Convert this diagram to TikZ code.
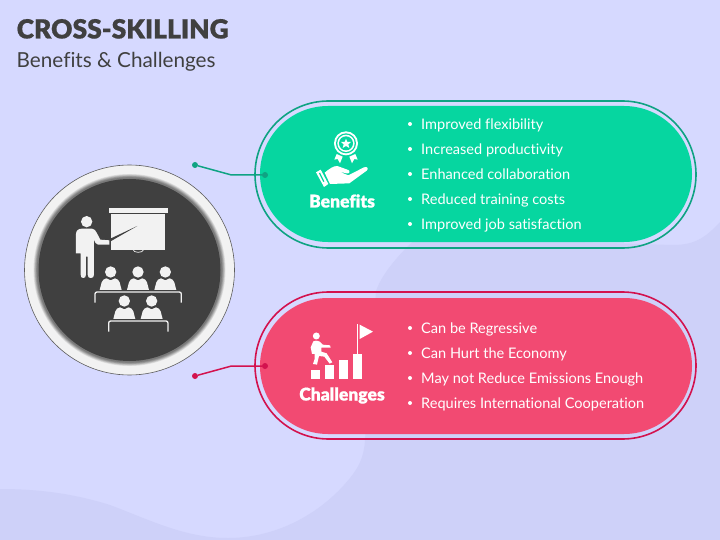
\documentclass[tikz,border=0pt]{standalone}
\usepackage{fontspec}
\setmainfont{Lato}[Ligatures=NoCommon]
\newfontfamily\heavyfont{Lato}[UprightFont=* Black,Ligatures=NoCommon,FakeBold=0.6]
\usetikzlibrary{shapes.misc}
\definecolor{bgcol}{HTML}{D6D9FF}
\definecolor{blobcol}{HTML}{CED1F9}
\definecolor{dark}{HTML}{404040}
\definecolor{pale}{HTML}{F2F2F2}
\definecolor{greenfill}{HTML}{06D6A0}
\definecolor{greenline}{HTML}{0FA383}
\definecolor{redfill}{HTML}{F24A72}
\definecolor{redline}{HTML}{D3124E}
\tikzset{
  pillring/.style={rounded rectangle,draw,line width=1.6pt,minimum width=441pt,minimum height=147pt,inner sep=0pt,anchor=center},
  pillfill/.style={rounded rectangle,minimum width=432pt,minimum height=136pt,inner sep=0pt,anchor=center},
  bullettext/.style={anchor=base west,text=white,font=\fontsize{14.55}{16}\selectfont,inner sep=0pt},
  bulletdot/.style={circle,fill=white,minimum size=4pt,inner sep=0pt},
  pilltitle/.style={anchor=base,text=white,font=\heavyfont\fontsize{17.5}{18}\selectfont,inner sep=0pt},
  enddot/.style={circle,minimum size=6pt,inner sep=0pt},
  conn/.style={line width=1.5pt},
  ico/.style={fill=pale,draw=none},
}
\begin{document}
\begin{tikzpicture}[x=1pt,y=-1pt]
\useasboundingbox (0,0) rectangle (720,540);
\fill[bgcol] (0,0) rectangle (720,540);
\fill[blobcol] (720,222) .. controls (705,238) and (695,245) .. (672,245) -- (450,238)
  .. controls (430,238) and (422,232) .. (411,243)
  .. controls (392,262) and (381,277) .. (376,291)
  -- (365,440) .. controls (364,458) and (358,468) .. (350,478)
  .. controls (320,515) and (275,538) .. (228,538)
  .. controls (185,538) and (150,520) .. (110,505)
  .. controls (75,494) and (40,489) .. (0,489)
  -- (0,540) -- (720,540) -- cycle;

\node[anchor=base west,inner sep=0pt,text=dark,font=\heavyfont\fontsize{26.4}{28}\selectfont] (title) at (16.5,38.5) {CROSS-SKILLING};
\node[anchor=base west,inner sep=0pt,text=dark,font=\fontsize{20.7}{24}\selectfont] (subtitle) at (16.5,67.5) {Benefits \& Challenges};

% pills
\node[pillring,draw=greenline] (bring) at (475.5,174.5) {};
\node[pillfill,fill=greenfill] (bfill) at (476,174) {};
\node[pillring,draw=redline] (cring) at (475.5,365.5) {};
\node[pillfill,fill=redfill] (cfill) at (476,366) {};

% connectors
\node[enddot,fill=greenline] (bstart) at (195,165) {};
\node[enddot,fill=greenline] (bend) at (265,175) {};
\coordinate (bknee) at (231.5,175);
\draw[conn,greenline] (bstart) -- (bknee) -- (bend);
\node[enddot,fill=redline] (cstart) at (195,376) {};
\node[enddot,fill=redline] (cend) at (265,366) {};
\coordinate (cknee) at (231.5,366);
\draw[conn,redline] (cstart) -- (cknee) -- (cend);

% round badge
\node[circle,draw=dark!85,line width=0.6pt,fill=pale,minimum size=210pt,inner sep=0pt] (badge) at (129.5,270) {};
\foreach \r/\g in {96/88,95.3/76,94.6/64,94/52,93.3/42,92.6/32}{
  \fill[pale!\g!dark] (badge.center) circle[radius=\r];
}
\node[circle,fill=dark,minimum size=182pt,inner sep=0pt] (disc) at (129.5,270) {};

% classroom icon, in the coordinates of a 3x crop
\begin{scope}[shift={(20,150)},x=0.3333pt,y=-0.3333pt]
  \fill[ico] (267,174) rectangle (443,189);
  \fill[ico] (274,192) rectangle (435,300);
  \draw[pale,line width=0.7pt] (340,300) arc[start angle=180,end angle=360,x radius=15,y radius=-7];
  \fill[ico] (200,215) circle[radius=17];
  \fill[ico] (186,236) -- (216,236) .. controls (224,238) and (226,240) .. (230,248)
    -- (241,269) -- (268,271) -- (268,284) -- (234,284)
    .. controls (228,283) and (224,276) .. (222,270)
    -- (222,374) .. controls (222,382) and (218,384) .. (212,384)
    .. controls (206,384) and (204,382) .. (203,374) -- (203,320) -- (198,320) -- (198,374)
    .. controls (197,382) and (195,384) .. (190,384) .. controls (185,384) and (182,382) .. (182,374)
    -- (182,310) -- (168,310) -- (168,252) .. controls (168,242) and (175,236) .. (186,236) -- cycle;
  \fill[dark] (270,275) -- (352,228) -- (273,265) -- cycle;
  \foreach \px/\py in {272/366,354/366,436/366,313/453,395/453}{
    \begin{scope}[shift={(\px,\py)}]
      \fill[ico] (0,0) circle[radius=17];
      \fill[ico] (-33,54) -- (-27,31) .. controls (-25,24) and (-20,21) .. (-13,19)
        -- (0,25) -- (13,19) .. controls (20,21) and (25,24) .. (27,31) -- (33,54) -- cycle;
    \end{scope}
  }
  \draw[pale,line width=1.3pt,rounded corners=2pt] (225,458) -- (225,426) -- (484,426) -- (484,458);
  \draw[pale,line width=1.3pt,rounded corners=2pt] (266,545) -- (266,513) -- (444,513) -- (444,545);
\end{scope}

% benefits icon
\begin{scope}[shift={(280,110)},x=0.3333pt,y=-0.3333pt]
  \fill[white] (198,100) circle[radius=36];
  \fill[greenfill] (198,100) circle[radius=30];
  \fill[white] (198,100) circle[radius=26];
  \fill[greenfill] (198,100) circle[radius=21];
  \fill[white] (198,86) -- (202,96) -- (213,96) -- (205,103) -- (208,114) -- (198,108)
    -- (188,114) -- (191,103) -- (183,96) -- (194,96) -- cycle;
  \fill[white] (170,132) -- (163,149) -- (173,147) -- (180,160) -- (188,140) -- cycle;
  \fill[white] (226,132) -- (233,149) -- (223,147) -- (216,160) -- (208,140) -- cycle;
  \fill[white] (108,187) -- (122,179) -- (145,222) -- (132,231) -- cycle;
  \fill[greenfill] (117,190) -- (120,188) -- (133,214) -- (130,216) -- cycle;
  \fill[white] (134,188) .. controls (150,175) and (160,168) .. (172,168)
    -- (205,180) .. controls (212,184) and (208,192) .. (200,190) -- (178,185) -- (205,196)
    -- (252,172) .. controls (262,168) and (267,176) .. (260,182)
    -- (208,220) -- (150,222) -- cycle;
\end{scope}

% challenges icon
\begin{scope}[shift={(280,310)},x=0.3333pt,y=-0.3333pt]
  \fill[white] (93,180) rectangle (121,207);
  \fill[white] (135,165) rectangle (163,207);
  \fill[white] (177,150) rectangle (205,207);
  \fill[white] (220,132) rectangle (247,207);
  \fill[white] (232,42) rectangle (235,132);
  \fill[white] (239,44) -- (279,65) -- (239,87) -- cycle;
  \fill[white] (109,78) circle[radius=10.5];
  \fill[white] (100,94) .. controls (110,90) and (118,92) .. (124,100) -- (128,104) -- (150,106)
    -- (152,113) -- (124,113) -- (124,125) -- (140,130) -- (157,157) -- (149,161) -- (133,140)
    -- (117,138) -- (111,164) -- (99,162) -- (104,147) -- (104,125) -- (103,132) -- (96,132)
    -- (92,112) -- cycle;
\end{scope}

\node[pilltitle] (bt) at (342,207.5) {Benefits};
\node[pilltitle] (ct) at (342,400.5) {Challenges};

% lists
\foreach \yy/\tx [count=\i] in {124/Improved flexibility,149/Increased productivity,174/Enhanced collaboration,199/Reduced training costs,224/Improved job satisfaction}{
  \node[bulletdot] (bd\i) at (410,\yy) {};
  \node[bullettext] (bl\i) at (421,\yy+5.5) {\tx};
}
\foreach \yy/\tx [count=\i] in {328/Can be Regressive,353/Can Hurt the Economy,378/May not Reduce Emissions Enough,403/Requires International Cooperation}{
  \node[bulletdot] (cd\i) at (410,\yy) {};
  \node[bullettext] (cl\i) at (421,\yy+5.5) {\tx};
}
\end{tikzpicture}
\end{document}
